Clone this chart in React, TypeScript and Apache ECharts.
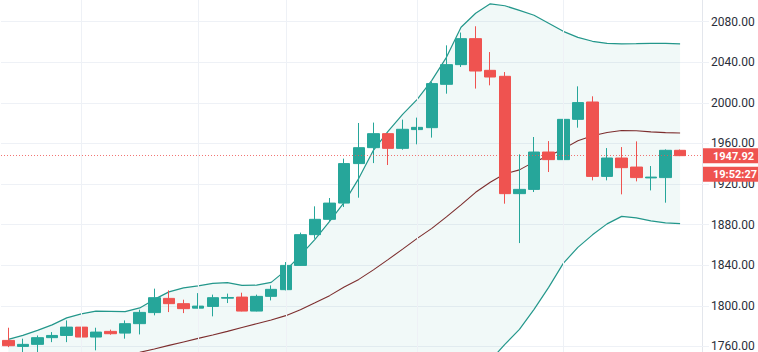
import React, { useEffect, useRef } from "react";
import * as echarts from "echarts";

// Daily candles (last slot left empty, as on the reference)
const categories = [
  "2020-06-24", "2020-06-25", "2020-06-26", "2020-06-29", "2020-06-30",
  "2020-07-01", "2020-07-02", "2020-07-03", "2020-07-06", "2020-07-07",
  "2020-07-08", "2020-07-09", "2020-07-10", "2020-07-13", "2020-07-14",
  "2020-07-15", "2020-07-16", "2020-07-17", "2020-07-20", "2020-07-21",
  "2020-07-22", "2020-07-23", "2020-07-24", "2020-07-27", "2020-07-28",
  "2020-07-29", "2020-07-30", "2020-07-31", "2020-08-03", "2020-08-04",
  "2020-08-05", "2020-08-06", "2020-08-07", "2020-08-10", "2020-08-11",
  "2020-08-12", "2020-08-13", "2020-08-14", "2020-08-17", "2020-08-18",
  "2020-08-19", "2020-08-20", "2020-08-21", "2020-08-24", "2020-08-25",
  "2020-08-26", "2020-08-27", "2020-08-28",
];

const opens = [
  1765.9, 1760.0, 1762.0, 1768.6, 1770.8, 1779.0, 1769.2, 1774.8, 1773.1, 1782.4,
  1793.3, 1807.3, 1802.1, 1797.7, 1799.4, 1807.5, 1808.6, 1794.8, 1809.3, 1815.9,
  1839.8, 1870.1, 1885.2, 1901.2, 1940.1, 1955.8, 1969.6, 1955.1, 1973.6, 1975.5,
  2018.2, 2037.6, 2063.2, 2032.0, 2026.1, 1910.5, 1914.7, 1951.5, 1944.0, 1983.7,
  2000.8, 1927.5, 1945.6, 1936.7, 1926.0, 1926.3, 1953.2,
];
const closes = [
  1760.7, 1762.0, 1768.6, 1770.8, 1779.0, 1769.2, 1774.1, 1772.5, 1782.4, 1793.5,
  1808.0, 1802.1, 1797.2, 1799.7, 1808.0, 1808.2, 1794.8, 1809.3, 1816.2, 1839.8,
  1870.1, 1885.2, 1901.2, 1940.1, 1955.8, 1969.6, 1955.1, 1973.9, 1975.8, 2018.9,
  2037.6, 2063.2, 2031.3, 2025.4, 1910.5, 1914.7, 1951.5, 1944.0, 1983.7, 2000.2,
  1927.5, 1945.6, 1936.1, 1926.3, 1926.8, 1953.2, 1947.92,
];
const lows = [
  1759.3, 1754.4, 1754.4, 1764.2, 1764.2, 1754.4, 1756.1, 1771.5, 1767.6, 1771.8,
  1790.6, 1793.8, 1792.8, 1797.5, 1789.6, 1802.7, 1794.5, 1794.5, 1805.3, 1815.2,
  1839.5, 1866.1, 1883.5, 1897.3, 1906.5, 1940.6, 1938.7, 1953.8, 1959.1, 1965.7,
  2009.0, 2035.3, 2014.0, 2017.2, 1900.6, 1861.8, 1912.1, 1931.8, 1929.2, 1975.5,
  1923.6, 1923.6, 1909.8, 1922.6, 1913.7, 1901.6, 1947.5,
];
const highs = [
  1778.4, 1767.6, 1770.8, 1774.1, 1785.6, 1787.9, 1778.4, 1776.5, 1785.6, 1796.2,
  1816.9, 1815.2, 1806.0, 1812.5, 1811.0, 1812.0, 1812.9, 1811.0, 1820.1, 1843.1,
  1872.1, 1898.0, 1906.2, 1945.0, 1980.1, 1980.5, 1970.0, 1983.4, 1985.4, 2020.5,
  2056.6, 2069.2, 2075.4, 2050.0, 2030.3, 1949.2, 1966.3, 1962.3, 1990.3, 2016.2,
  2006.4, 1955.4, 1956.4, 1962.0, 1937.7, 1954.1, 1954.0,
];

// Bollinger bands
const upperBand = [
  1766.9, 1770.8, 1775.8, 1781.2, 1788.1, 1792.0, 1794.7, 1794.5, 1794.3, 1797.9,
  1806.3, 1813.7, 1817.7, 1819.6, 1822.1, 1822.9, 1820.1, 1820.3, 1823.1, 1834.9,
  1849.7, 1865.5, 1883.2, 1901.9, 1925.6, 1953.2, 1971.9, 1988.6, 2003.4, 2022.1,
  2044.8, 2074.4, 2088.2, 2097.5, 2095.6, 2091.1, 2086.2, 2078.3, 2070.4, 2064.5,
  2060.6, 2058.6, 2058.1, 2058.3, 2058.6, 2058.6, 2058.1,
];
const middleBand = [
  1722.7, 1726.5, 1729.5, 1733.4, 1737.3, 1740.8, 1744.2, 1747.7, 1751.1, 1754.1,
  1757.5, 1761.0, 1764.4, 1767.9, 1771.3, 1774.8, 1778.7, 1782.4, 1786.1, 1790.3,
  1796.0, 1802.9, 1810.0, 1818.6, 1826.0, 1835.4, 1845.5, 1855.8, 1866.4, 1876.3,
  1887.6, 1899.5, 1911.8, 1921.7, 1930.0, 1933.9, 1941.8, 1947.7, 1954.6, 1962.7,
  1967.6, 1970.7, 1972.7, 1972.4, 1971.4, 1970.6, 1970.2,
];
const lowerBand = [
  1679.0, 1682.0, 1683.0, 1686.0, 1687.0, 1690.0, 1694.0, 1701.0, 1708.0, 1710.0,
  1709.0, 1708.0, 1711.0, 1716.0, 1721.0, 1727.0, 1737.0, 1745.0, 1749.0, 1746.0,
  1742.0, 1740.0, 1737.0, 1735.0, 1727.0, 1718.0, 1719.0, 1723.0, 1729.0, 1731.0,
  1730.0, 1725.0, 1735.0, 1746.0, 1762.0, 1776.8, 1796.5, 1818.1, 1841.8, 1857.6,
  1869.9, 1880.7, 1888.1, 1886.6, 1883.7, 1881.7, 1880.9,
];

const gridDates = ["2020-07-01", "2020-07-13", "2020-07-21", "2020-08-03", "2020-08-17"];

const yMin = 1720;
const yMax = 2120;
const yStep = 40;

const lastPrice = 1947.92;
const priceLabel = "1947.92";
const timeLabel = "19:52:27";

const UP = "#26a69a";
const DOWN = "#ef5350";

export default function App() {
  const ref = useRef<HTMLDivElement>(null);

  useEffect(() => {
    const el = ref.current as HTMLDivElement;
    const chart = echarts.init(el, undefined, { renderer: "svg" });
    const candles = opens.map((o, i) => [o, closes[i], lows[i], highs[i]]);
    const bandFill = upperBand.map((u, i) => +(u - lowerBand[i]).toFixed(2));
    const gridColor = "#eef1f6";

    chart.setOption({
      animation: false,
      grid: { left: 1, right: 56, top: 1, bottom: 0 },
      xAxis: {
        type: "category",
        data: categories,
        boundaryGap: true,
        axisLine: { show: false },
        axisTick: { show: false },
        axisLabel: { show: false },
        splitLine: { show: false },
      },
      yAxis: {
        type: "value",
        position: "right",
        min: yMin,
        max: yMax,
        interval: yStep,
        axisLine: { show: true, lineStyle: { color: "#e3e6ec", width: 1 } },
        axisTick: { show: true, length: 7, lineStyle: { color: gridColor } },
        axisLabel: {
          showMinLabel: false,
          showMaxLabel: false,
          margin: 9,
          color: "#2a2e39",
          fontSize: 12,
          fontFamily: "Roboto",
          formatter: (v: number) => v.toFixed(2),
        },
        splitLine: { show: true, lineStyle: { color: gridColor, width: 1 } },
      },
      series: [
        {
          type: "line",
          name: "bbBase",
          data: lowerBand,
          stack: "bb",
          symbol: "none",
          silent: true,
          lineStyle: { opacity: 0 },
          z: 1,
          markLine: {
            silent: true,
            symbol: ["none", "none"],
            label: { show: false },
            lineStyle: { color: gridColor, width: 1, type: "solid" },
            data: gridDates.map((d) => ({ xAxis: d })),
          },
        },
        {
          type: "line",
          name: "bbFill",
          data: bandFill,
          stack: "bb",
          symbol: "none",
          silent: true,
          lineStyle: { opacity: 0 },
          areaStyle: { color: "rgba(38,166,154,0.065)", opacity: 1 },
          z: 1,
        },
        {
          type: "line",
          name: "Upper",
          data: upperBand,
          symbol: "none",
          silent: true,
          lineStyle: { color: "#23978b", width: 1.2 },
          z: 2,
        },
        {
          type: "line",
          name: "Basis",
          data: middleBand,
          symbol: "none",
          silent: true,
          lineStyle: { color: "#7d2e2e", width: 1.1 },
          z: 2,
        },
        {
          type: "line",
          name: "Lower",
          data: lowerBand,
          symbol: "none",
          silent: true,
          lineStyle: { color: "#23978b", width: 1.2 },
          z: 2,
        },
        {
          type: "candlestick",
          name: "Price",
          data: candles,
          barWidth: 12,
          z: 3,
          itemStyle: {
            color: UP,
            color0: DOWN,
            borderColor: UP,
            borderColor0: DOWN,
            borderWidth: 1,
          },
          markLine: {
            silent: true,
            symbol: ["none", "none"],
            label: { show: false },
            lineStyle: { color: DOWN, width: 1, type: [1, 2], opacity: 0.8 },
            data: [{ yAxis: lastPrice }],
          },
        },
      ],
    });

    const py = chart.convertToPixel({ yAxisIndex: 0 }, lastPrice) as number;
    const axisX = el.clientWidth - 56 + 1;
    chart.setOption({
      graphic: [
        {
          type: "rect",
          z: 100,
          shape: { x: axisX, y: py - 7.5, width: 60, height: 15 },
          style: { fill: DOWN },
        },
        {
          type: "text",
          z: 101,
          x: axisX + 10,
          y: py + 0.5,
          style: {
            text: priceLabel,
            fill: "#ffffff",
            font: "bold 11px Roboto",
            textAlign: "left",
            textVerticalAlign: "middle",
          },
        },
        {
          type: "rect",
          z: 100,
          shape: { x: axisX, y: py + 11, width: 60, height: 15 },
          style: { fill: DOWN },
        },
        {
          type: "text",
          z: 101,
          x: axisX + 10,
          y: py + 19,
          style: {
            text: timeLabel,
            fill: "#ffffff",
            font: "bold 11px Roboto",
            textAlign: "left",
            textVerticalAlign: "middle",
          },
        },
      ],
    });

    return () => chart.dispose();
  }, []);

  return (
    <div
      style={{
        position: "fixed",
        left: 0,
        top: 0,
        width: 758,
        height: 352,
        overflow: "hidden",
        background: "#ffffff",
      }}
    >
      <div
        ref={ref}
        style={{ position: "absolute", left: 0, top: -20, width: 758, height: 407 }}
      />
    </div>
  );
}
